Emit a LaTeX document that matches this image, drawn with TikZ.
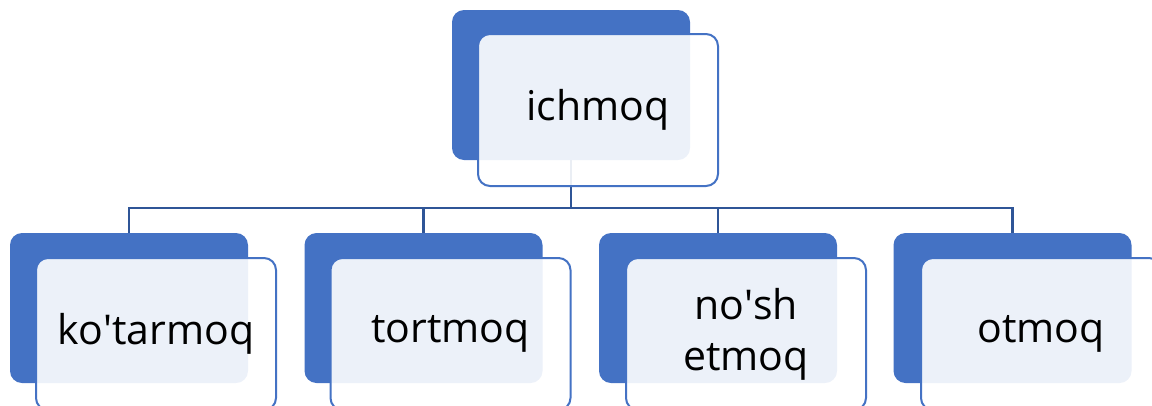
\documentclass[tikz,border=0pt]{standalone}
\usepackage{fontspec}
\setmainfont{Open Sans}
\definecolor{accent}{HTML}{4472C4}
\definecolor{linkc}{HTML}{2F5597}
\tikzset{
  back/.style={rounded corners=12pt, fill=accent, draw=none, minimum width=238pt, minimum height=150pt, inner sep=0pt},
  front/.style={rounded corners=12pt, fill=white, fill opacity=0.9, text opacity=1, draw=accent, line width=2pt, minimum width=240pt, minimum height=152pt, inner sep=0pt, align=center, font=\fontsize{41}{51}\selectfont},
  link/.style={draw=linkc, line width=2.5pt}
}
\begin{document}
\begin{tikzpicture}[x=1pt,y=-1pt]
\useasboundingbox (0,0) rectangle (1152,405);
% back shapes
\node[back] (tb) at (571,85) {};
\node[back] (b1) at (129,308) {};
\node[back] (b2) at (423.5,308) {};
\node[back] (b3) at (718,308) {};
\node[back] (b4) at (1012.5,308) {};
% connectors
\coordinate (j) at (571,208);
\draw[link] (tb.south) -- (j);
\draw[link] (j) -| (b1.north);
\draw[link] (j) -| (b2.north);
\draw[link] (j) -| (b3.north);
\draw[link] (j) -| (b4.north);
% front shapes
\node[front] (tf) at (598,110) {ichmoq};
\node[front] (f1) at (156,334) {ko\textquotesingle tarmoq};
\node[front] (f2) at (450.5,334) {tortmoq};
\node[front] (f3) at (746,334) {no\textquotesingle sh\\etmoq};
\node[front] (f4) at (1041,334) {otmoq};
\end{tikzpicture}
\end{document}
